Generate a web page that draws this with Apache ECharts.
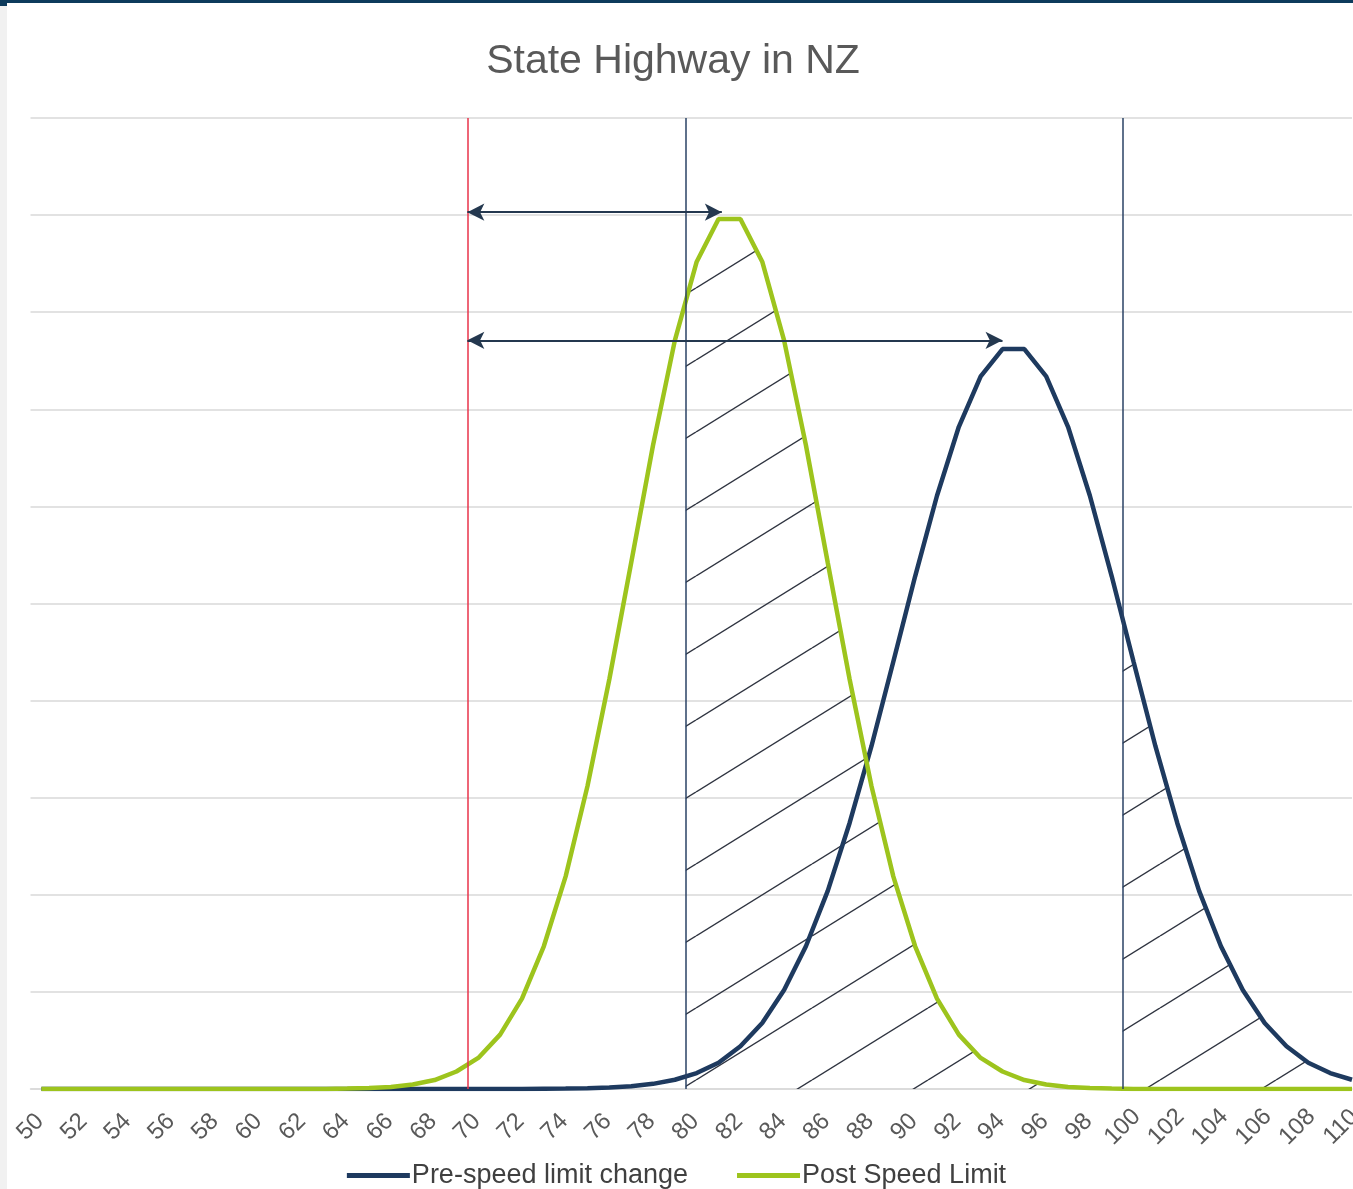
<!DOCTYPE html>
<html><head><meta charset="utf-8">
<script src="https://cdn.jsdelivr.net/npm/echarts@6/dist/echarts.min.js"></script>
<style>html,body{margin:0;padding:0;background:#fff}#chart{width:1353px;height:1189px}</style>
</head><body><div id="chart"></div>
<script>
// speed bins (km/h, bin centres)
const speeds = [50.5,51.5,52.5,53.5,54.5,55.5,56.5,57.5,58.5,59.5,60.5,61.5,62.5,63.5,64.5,65.5,66.5,67.5,68.5,69.5,70.5,71.5,72.5,73.5,74.5,75.5,76.5,77.5,78.5,79.5,80.5,81.5,82.5,83.5,84.5,85.5,86.5,87.5,88.5,89.5,90.5,91.5,92.5,93.5,94.5,95.5,96.5,97.5,98.5,99.5,100.5,101.5,102.5,103.5,104.5,105.5,106.5,107.5,108.5,109.5,110.5];
// Pre-speed limit change (navy)
const preValues = [0,0,0,0,0,0,0,0,0,0,0,0,0,0,0,0,0,0,0,0,0,0,0,0.002,0.004,0.007,0.015,0.028,0.053,0.095,0.164,0.27,0.44,0.68,1.02,1.47,2.04,2.74,3.53,4.40,5.28,6.11,6.82,7.34,7.62,7.62,7.34,6.82,6.11,5.28,4.40,3.53,2.74,2.04,1.47,1.02,0.68,0.44,0.27,0.164,0.095];
// Post Speed Limit (green)
const postValues = [0,0,0,0,0,0,0,0,0,0,0,0,0,0,0.004,0.010,0.021,0.046,0.092,0.18,0.32,0.56,0.93,1.47,2.19,3.12,4.22,5.42,6.63,7.71,8.52,8.96,8.96,8.52,7.71,6.63,5.42,4.22,3.12,2.19,1.47,0.93,0.56,0.32,0.18,0.092,0.046,0.021,0.010,0.004,0,0,0,0,0,0,0,0,0,0,0];
const tickLabels = ['50','52','54','56','58','60','62','64','66','68','70','72','74','76','78','80','82','84','86','88','90','92','94','96','98','100','102','104','106','108','110'];
const seriesNames = ['Pre-speed limit change','Post Speed Limit'];
const redLimit = 70;
const navyLimits = [80, 100];
const hatchStarts = [80, 100];
// arrows: [startX, endX, y]
const arrowRows = [[70, 81.65, 9.03],[70, 94.5, 7.71]];

const NAVY = '#1e3a5f', GREEN = '#9dc41d';

function makeHatch(){
  const W = 116, H = 72;
  const c = document.createElement('canvas'); c.width = W; c.height = H;
  const g = c.getContext('2d');
  g.strokeStyle = '#2f3440'; g.lineWidth = 1.4;
  for (let k = -1; k <= 1; k++){ g.beginPath(); g.moveTo(0, H + k*H); g.lineTo(W, k*H); g.stroke(); }
  return c;
}
const hatchImg = makeHatch();

function clippedPoly(api, values, from){
  const base = api.coord([from, 0])[1];
  const xf = api.coord([from, 0])[0];
  const pts = speeds.map((s,i)=>api.coord([s, values[i]]));
  let i0 = speeds.findIndex(s => s >= from);
  const poly = [[xf, base]];
  if (i0 > 0){
    const a = pts[i0-1], b = pts[i0];
    poly.push([xf, a[1] + (b[1]-a[1])*(xf-a[0])/(b[0]-a[0])]);
  }
  for (let i = i0; i < pts.length; i++) poly.push(pts[i]);
  poly.push([pts[pts.length-1][0], base]);
  return poly;
}

const chart = echarts.init(document.getElementById('chart'), null, {renderer:'canvas'});
chart.setOption({
  animation: false,
  backgroundColor: '#ffffff',
  graphic: [
    {type:'rect', left:0, top:0, shape:{width:1353, height:3}, style:{fill:'#0d3b5c'}, z:100},
    {type:'rect', left:0, top:0, shape:{width:7, height:6}, style:{fill:'#0d3b5c'}, z:100},
    {type:'rect', left:0, top:6, shape:{width:7, height:1183}, style:{fill:'#f1f1f1'}, z:100}
  ],
  title: {
    text: 'State Highway in NZ', left: 668, top: 36, textAlign: 'center',
    textStyle: {fontFamily:'Liberation Sans, Arial, sans-serif', fontSize: 41, fontWeight: 'normal', color:'#595959'}
  },
  legend: {
    data: seriesNames, left: 'center', top: 1157, icon: 'rect', itemWidth: 63, itemHeight: 5, itemGap: 49,
    textStyle: {fontFamily:'Liberation Sans, Arial, sans-serif', fontSize: 27, color:'#404040', padding:[0,0,0,-3]}
  },
  grid: {left: 30.5, right: 1, top: 118, bottom: 100, containLabel: false, outerBoundsMode: 'none'},
  xAxis: {
    type: 'value', min: 50, max: 110.5, interval: 2,
    axisLine: {show:true, lineStyle:{color:'#d9d9d9', width:1.5}},
    axisTick: {show:false}, splitLine: {show:false},
    axisLabel: {
      rotate: 45, fontSize: 24, color:'#595959', fontFamily:'Liberation Sans, Arial, sans-serif',
      margin: 38, align: 'center', verticalAlign: 'middle', showMaxLabel: false, hideOverlap: false,
      formatter: v => tickLabels.includes(String(v)) ? String(v) : ''
    }
  },
  yAxis: {
    type: 'value', min: 0, max: 10, interval: 1,
    axisLabel: {show:false}, axisLine:{show:false}, axisTick:{show:false},
    splitLine: {lineStyle:{color:'#d9d9d9', width:1.5}}
  },
  series: [
    {
      type: 'custom', silent: true, z: 1, data: [[80, 0]],
      renderItem: function(params, api){
        const children = hatchStarts.map((from, k) => ({
          type: 'polygon',
          shape: {points: clippedPoly(api, k === 0 ? postValues : preValues, from)},
          style: {fill: {image: hatchImg, repeat: 'repeat'}, stroke: null}
        }));
        return {type:'group', children};
      }
    },
    {
      name: seriesNames[0], type: 'line', z: 3, showSymbol: false, symbol: 'none',
      data: speeds.map((s,i)=>[s, preValues[i]]),
      lineStyle: {color: NAVY, width: 4.5}, itemStyle: {color: NAVY},
      markLine: {
        silent: true, symbol: ['none','none'], label:{show:false},
        data: [
          {xAxis: redLimit, lineStyle:{color:'#e8334a', width:1.5, type:'solid'}},
          ...navyLimits.map(v => ({xAxis: v, lineStyle:{color:'#2a4264', width:1.5, type:'solid'}}))
        ]
      }
    },
    {
      name: seriesNames[1], type: 'line', z: 4, showSymbol: false, symbol: 'none',
      data: speeds.map((s,i)=>[s, postValues[i]]),
      lineStyle: {color: GREEN, width: 4.5}, itemStyle: {color: GREEN},
      markLine: {
        silent: true, symbol: ['arrow','arrow'], symbolSize: [13, 17], label:{show:false},
        lineStyle: {color:'#24384f', width: 2, type:'solid'},
        data: arrowRows.map(r => [{coord:[r[0], r[2]]}, {coord:[r[1], r[2]]}])
      }
    }
  ]
});
</script></body></html>
